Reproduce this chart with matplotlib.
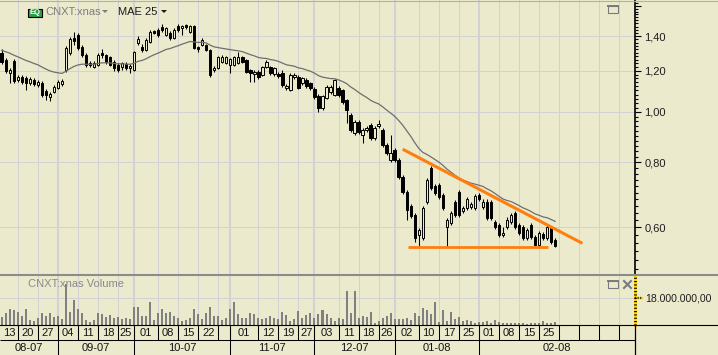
import numpy as np
import matplotlib.pyplot as plt
from matplotlib.patches import Rectangle, Polygon
from matplotlib.lines import Line2D
from matplotlib.transforms import Affine2D, blended_transform_factory
from matplotlib.ticker import FixedLocator, FuncFormatter, NullFormatter

plt.rcParams['font.family'] = ['Liberation Sans', 'DejaVu Sans']

# ---- daily bars (one per trading day) ----
open_ = [
    1.298, 1.259, 1.188, 1.253, 1.152, 1.168, 1.162, 1.137, 1.152, 1.127,
    1.137, 1.097, 1.069, 1.093, 1.112, 1.132, 1.204, 1.298, 1.387, 1.406,
    1.333, 1.287, 1.242, 1.220, 1.231, 1.298, 1.287, 1.276, 1.248, 1.231,
    1.220, 1.237, 1.215, 1.204, 1.357, 1.333, 1.316, 1.363, 1.431, 1.437,
    1.457, 1.406, 1.418, 1.387, 1.463, 1.450, 1.470, 1.425, 1.463, 1.333,
    1.345, 1.345, 1.316, 1.204, 1.215, 1.248, 1.242, 1.231, 1.231, 1.242,
    1.276, 1.259, 1.204, 1.183, 1.194, 1.178, 1.220, 1.220, 1.183, 1.183,
    1.188, 1.112, 1.102, 1.168, 1.168, 1.137, 1.152, 1.137, 1.107, 1.073,
    1.018, 1.064, 1.093, 1.078, 1.112, 1.102, 1.055, 0.987, 0.911, 0.957,
    0.903, 0.923, 0.944, 0.891, 0.940, 0.923, 0.864, 0.809, 0.845, 0.809,
    0.750, 0.702, 0.660, 0.634, 0.580, 0.573, 0.672, 0.781, 0.721, 0.724,
    0.693, 0.601, 0.612, 0.672, 0.702, 0.645, 0.654, 0.657, 0.654, 0.693,
    0.657, 0.672, 0.672, 0.615, 0.607, 0.580, 0.601, 0.615, 0.640, 0.607,
    0.601, 0.573, 0.607, 0.575, 0.555, 0.583, 0.573, 0.599, 0.568,
]
high = [
    1.321, 1.270, 1.215, 1.264, 1.178, 1.178, 1.173, 1.168, 1.162, 1.152,
    1.147, 1.107, 1.093, 1.127, 1.152, 1.157, 1.339, 1.394, 1.425, 1.418,
    1.345, 1.298, 1.253, 1.253, 1.298, 1.321, 1.293, 1.281, 1.259, 1.242,
    1.248, 1.248, 1.237, 1.310, 1.400, 1.351, 1.387, 1.437, 1.437, 1.450,
    1.476, 1.457, 1.431, 1.450, 1.476, 1.470, 1.476, 1.470, 1.470, 1.339,
    1.387, 1.351, 1.321, 1.226, 1.281, 1.287, 1.281, 1.270, 1.281, 1.304,
    1.281, 1.264, 1.210, 1.204, 1.204, 1.226, 1.259, 1.226, 1.220, 1.194,
    1.204, 1.132, 1.188, 1.188, 1.178, 1.168, 1.162, 1.142, 1.117, 1.083,
    1.078, 1.127, 1.127, 1.157, 1.122, 1.107, 1.059, 0.996, 0.965, 0.965,
    0.932, 0.940, 0.952, 0.940, 0.965, 0.932, 0.872, 0.903, 0.853, 0.816,
    0.757, 0.708, 0.666, 0.640, 0.599, 0.660, 0.747, 0.788, 0.727, 0.730,
    0.699, 0.626, 0.645, 0.678, 0.708, 0.660, 0.687, 0.672, 0.696, 0.699,
    0.680, 0.680, 0.678, 0.620, 0.612, 0.601, 0.628, 0.640, 0.645, 0.612,
    0.607, 0.599, 0.612, 0.580, 0.591, 0.588, 0.607, 0.604, 0.573,
]
low = [
    1.237, 1.188, 1.137, 1.137, 1.142, 1.132, 1.102, 1.127, 1.122, 1.117,
    1.069, 1.055, 1.050, 1.088, 1.107, 1.122, 1.194, 1.287, 1.345, 1.316,
    1.276, 1.220, 1.220, 1.215, 1.226, 1.270, 1.237, 1.226, 1.199, 1.194,
    1.204, 1.204, 1.188, 1.199, 1.345, 1.304, 1.310, 1.357, 1.412, 1.394,
    1.425, 1.400, 1.375, 1.381, 1.425, 1.406, 1.444, 1.418, 1.321, 1.304,
    1.339, 1.310, 1.168, 1.194, 1.210, 1.242, 1.237, 1.188, 1.226, 1.237,
    1.242, 1.188, 1.142, 1.142, 1.157, 1.173, 1.215, 1.178, 1.173, 1.162,
    1.117, 1.102, 1.097, 1.157, 1.107, 1.127, 1.112, 1.102, 1.059, 1.000,
    1.009, 1.059, 1.083, 1.073, 1.069, 1.036, 0.952, 0.915, 0.903, 0.907,
    0.872, 0.915, 0.884, 0.884, 0.932, 0.857, 0.827, 0.802, 0.802, 0.743,
    0.696, 0.620, 0.626, 0.563, 0.550, 0.568, 0.666, 0.708, 0.693, 0.680,
    0.648, 0.550, 0.607, 0.628, 0.628, 0.640, 0.648, 0.651, 0.648, 0.675,
    0.651, 0.620, 0.620, 0.596, 0.575, 0.575, 0.596, 0.609, 0.596, 0.580,
    0.568, 0.568, 0.570, 0.553, 0.550, 0.568, 0.568, 0.558, 0.550,
]
close = [
    1.248, 1.199, 1.204, 1.147, 1.168, 1.142, 1.137, 1.157, 1.132, 1.142,
    1.078, 1.078, 1.083, 1.117, 1.142, 1.147, 1.327, 1.381, 1.369, 1.327,
    1.287, 1.231, 1.231, 1.242, 1.287, 1.287, 1.248, 1.231, 1.215, 1.204,
    1.242, 1.215, 1.226, 1.304, 1.381, 1.316, 1.375, 1.425, 1.418, 1.406,
    1.437, 1.450, 1.387, 1.437, 1.437, 1.463, 1.457, 1.463, 1.327, 1.321,
    1.375, 1.316, 1.178, 1.215, 1.276, 1.276, 1.276, 1.264, 1.276, 1.276,
    1.248, 1.194, 1.188, 1.194, 1.168, 1.220, 1.248, 1.188, 1.215, 1.173,
    1.127, 1.122, 1.178, 1.178, 1.112, 1.162, 1.122, 1.112, 1.069, 1.018,
    1.073, 1.117, 1.117, 1.152, 1.078, 1.045, 1.009, 0.923, 0.957, 0.915,
    0.923, 0.932, 0.891, 0.932, 0.948, 0.864, 0.834, 0.834, 0.809, 0.750,
    0.702, 0.648, 0.631, 0.573, 0.593, 0.654, 0.740, 0.714, 0.699, 0.687,
    0.654, 0.620, 0.640, 0.634, 0.634, 0.654, 0.680, 0.666, 0.690, 0.680,
    0.672, 0.626, 0.626, 0.601, 0.580, 0.586, 0.620, 0.634, 0.601, 0.586,
    0.573, 0.593, 0.575, 0.555, 0.586, 0.573, 0.601, 0.563, 0.553,
]
# volume in millions of shares
volume = [
    5.4, 8.3, 10.6, 9.9, 9.0, 6.1, 10.6, 3.2, 2.7, 5.0,
    8.3, 6.1, 8.3, 5.4, 6.1, 3.8, 27.5, 9.0, 16.9, 10.6,
    7.7, 3.2, 2.3, 3.2, 8.3, 7.2, 5.4, 6.5, 5.0, 5.4,
    3.8, 5.0, 3.8, 11.7, 12.2, 6.1, 6.1, 15.1, 3.2, 8.3,
    10.6, 8.3, 9.0, 6.1, 5.0, 2.7, 3.2, 5.0, 10.6, 7.2,
    3.8, 8.3, 12.2, 6.1, 6.1, 3.2, 5.0, 10.6, 15.1, 7.2,
    5.0, 5.0, 8.3, 7.2, 5.0, 3.8, 5.0, 6.1, 5.0, 3.8,
    9.0, 6.5, 2.7, 3.8, 9.5, 5.0, 6.5, 8.3, 5.0, 7.2,
    9.9, 7.2, 5.0, 2.7, 5.0, 3.8, 23.0, 8.3, 22.5, 5.0,
    6.1, 5.4, 9.0, 1.6, 2.7, 5.0, 6.1, 7.7, 3.8, 3.8,
    3.8, 5.0, 3.2, 8.3, 6.1, 11.3, 10.1, 7.2, 15.1, 2.3,
    9.9, 2.7, 9.0, 3.8, 5.4, 2.7, 3.2, 2.7, 1.6, 2.3,
    2.3, 2.7, 1.6, 3.4, 2.0, 1.6, 1.6, 1.6, 1.6, 1.6,
    1.6, 0.5, 1.6, 1.1, 1.6, 2.7, 1.6, 1.1, 2.3,
]
ema_seed = 1.32   # MAE 25 value before the first bar
ema_len = 25

# date axis (bar index of the first bar of each week / month)
week_edges = [4, 9, 14, 19, 24, 29, 33, 39, 44, 49, 54, 57, 64, 69, 74, 78,
              84, 89, 94, 98, 104, 109, 114, 119, 124, 129, 134, 139, 144, 149, 154]
week_labels = ['13', '20', '27', '04', '11', '18', '25', '01', '08', '15', '22', '',
               '01', '12', '19', '27', '03', '11', '18', '26', '02', '10', '17', '25',
               '01', '08', '15', '25', '', '', '', '']
month_edges = [14, 33, 57, 78, 98, 119]
month_labels = ['08-07', '09-07', '10-07', '11-07', '12-07', '01-08', '02-08']

price_major = [0.6, 0.8, 1.0, 1.2, 1.4, 1.6]
price_minor = [round(0.50 + 0.02 * k, 2) for k in range(57)]
vol_tick = 18.0

# hand-drawn trend lines (bar index, price)
resist_x, resist_y = [100.0, 144.8], [0.848, 0.559]
support_x, support_y = [101.3, 136.2], [0.549, 0.549]

# ---- layout ----
W, H = 718, 355
BG = '#ECEACD'
GRID = '#D2D2D2'
BAR_PX, FIRST_PX, PLOT_W = 4.01, 1.7, 635
x_lo = -FIRST_PX / BAR_PX
x_hi = (PLOT_W - FIRST_PX) / BAR_PX
P_TOP, P_BOT = 1.642, 0.488
V_TOP = 32.7

fig = plt.figure(figsize=(W / 100, H / 100), dpi=100)
fig.patch.set_facecolor(BG)
pix = Affine2D().scale(1 / W, -1 / H).translate(0, 1) + fig.transFigure


def box(top, bottom):
    return [0, 1 - bottom / H, PLOT_W / W, (bottom - top) / H]


ax_p = fig.add_axes(box(0, 274))
ax_v = fig.add_axes(box(276, 325))
ax_d = fig.add_axes(box(325, 355))
for ax in (ax_p, ax_v, ax_d):
    ax.set_facecolor('none')
    ax.set_xlim(x_lo, x_hi)
    for s in ax.spines.values():
        s.set_visible(False)
    ax.set_xticks([])
    ax.set_yticks([])


def vgrid(ax):
    for e in week_edges:
        ax.axvline(e, color=GRID, lw=1.45 if e in month_edges else 0.72, zorder=0)


# ---- price panel ----
o, h, l, c = map(np.array, (open_, high, low, close))
x = np.arange(len(c))
ax_p.set_yscale('log')
ax_p.set_ylim(P_BOT, P_TOP)
vgrid(ax_p)
for v in price_major[:-1]:
    ax_p.axhline(v, color=GRID, lw=0.72, zorder=0)

up = c >= o
lo_b, hi_b = np.minimum(o, c), np.maximum(o, c)
ax_p.vlines(x, l, h, color='black', lw=0.75, zorder=3)
ax_p.bar(x[up], hi_b[up] - lo_b[up], bottom=lo_b[up], width=0.6,
         facecolor=BG, edgecolor='black', lw=0.7, zorder=4)
ax_p.bar(x[~up], hi_b[~up] - lo_b[~up], bottom=lo_b[~up], width=0.6,
         facecolor='black', edgecolor='black', lw=0.7, zorder=4)

ema = []
prev = ema_seed
k = 2 / (ema_len + 1)
for v in c:
    prev = prev + k * (v - prev)
    ema.append(prev)
ax_p.plot(x, ema, color='#6E6E6E', lw=0.9, zorder=5)

ax_p.plot(resist_x, resist_y, color='#FF7E0C', lw=2.2, solid_capstyle='butt', zorder=6)
ax_p.plot(support_x, support_y, color='#FF7E0C', lw=2.0, solid_capstyle='butt', zorder=6)

ax_p.spines['right'].set_visible(True)
ax_p.spines['right'].set_linewidth(1.2)
ax_p.yaxis.tick_right()
ax_p.yaxis.set_major_locator(FixedLocator(price_major))
ax_p.yaxis.set_minor_locator(FixedLocator(price_minor))
ax_p.yaxis.set_major_formatter(FuncFormatter(
    lambda v, _: f'{v:.2f}'.replace('.', ',') if v < 1.5 else ''))
ax_p.yaxis.set_minor_formatter(NullFormatter())
ax_p.tick_params(axis='y', which='major', length=4.3, width=0.8, pad=2.5,
                 labelsize=8, labelcolor='#1E1E1E')
ax_p.tick_params(axis='y', which='minor', length=2.2, width=0.8)

# ---- volume panel ----
ax_v.set_ylim(0, V_TOP)
vgrid(ax_v)
ax_v.axhline(vol_tick, color=GRID, lw=0.72, zorder=0)
ax_v.bar(x, volume, width=0.5, color='#808080', zorder=2)
bt = blended_transform_factory(ax_v.transAxes, ax_v.transData)
for col, kw in (('#FFD400', {}), ('black', {'dashes': (0.4, 0.8)})):
    ax_v.plot([1, 1], [0, V_TOP], transform=bt, color=col, lw=2.0, clip_on=False, **kw)
    ax_v.plot([1, 1 + 7 / PLOT_W], [vol_tick, vol_tick], transform=bt, color=col,
              lw=1.6, clip_on=False, **kw)
lbl = f'{vol_tick * 1e6:,.2f}'.replace(',', ' ').replace('.', ',').replace(' ', '.')
ax_v.text(1 + 10 / PLOT_W, vol_tick, lbl, transform=bt, fontsize=7.6,
          color='#1E1E1E', va='center', ha='left')

# ---- date rows ----
ax_d.set_ylim(0, 30)
ax_d.hlines(15, x_lo, x_hi, color='black', lw=0.75)
ax_d.vlines(week_edges, 15, 30, color='black', lw=0.75)
ax_d.vlines(month_edges, 0, 30, color='black', lw=0.75)
ax_d.plot([1, 1], [0, 1], transform=ax_d.transAxes, color='black', lw=0.9, clip_on=False)
wk = [x_lo] + week_edges + [x_hi]
for a, b, s in zip(wk[:-1], wk[1:], week_labels):
    ax_d.text((a + b) / 2, 22.5, s, ha='center', va='center', fontsize=8, color='#141414')
mo = [x_lo] + month_edges + [x_hi]
for a, b, s in zip(mo[:-1], mo[1:], month_labels):
    ax_d.text((a + b) / 2, 7.2, s, ha='center', va='center', fontsize=8, color='#141414')

# ---- frame lines, legends and icons ----
fig.add_artist(Line2D([0, W], [0.5, 0.5], transform=pix, color='#B0B0B0', lw=0.8))
fig.add_artist(Line2D([0, W], [275, 275], transform=pix, color='#8C8C8C', lw=1.5))
fig.add_artist(Line2D([0, W], [325, 325], transform=pix, color='black', lw=0.8))

fig.add_artist(Rectangle((27.5, 8.5), 14.5, 8.5, transform=pix, fc='#2E9E48',
                         ec='black', lw=0.8))
fig.text(34.8, 12.9, 'EQ', transform=pix, color='white', fontsize=5.5,
         fontweight='bold', ha='center', va='center')
fig.text(45, 12.3, 'CNXT:xnas', transform=pix, color='#7C7C7C', fontsize=8, va='center')
fig.add_artist(Polygon([[102, 10], [108, 10], [105, 13]], transform=pix, fc='#7C7C7C', ec='none'))
fig.text(118, 12.3, 'MAE 25', transform=pix, color='#1A1A1A', fontsize=8, va='center')
fig.add_artist(Polygon([[161, 10], [167, 10], [164, 13]], transform=pix, fc='#1A1A1A', ec='none'))

fig.text(28.3, 284, 'CNXT:xnas Volume', transform=pix, color='#8A8A8A', fontsize=8, va='center')


def win_icon(x0, y0):
    fig.add_artist(Rectangle((x0, y0), 10, 7.5, transform=pix, fc='none', ec='#7A7A7A', lw=0.8))
    fig.add_artist(Line2D([x0, x0 + 10], [y0 + 0.8, y0 + 0.8], transform=pix,
                          color='#7A7A7A', lw=1.4))


win_icon(607.5, 5.5)
win_icon(607.5, 280.5)
for ya, yb in ((281, 288), (288, 281)):
    fig.add_artist(Line2D([624, 631], [ya, yb], transform=pix, color='#7A7A7A', lw=1.5))

fig.savefig('out.png', dpi=100, facecolor=BG)
